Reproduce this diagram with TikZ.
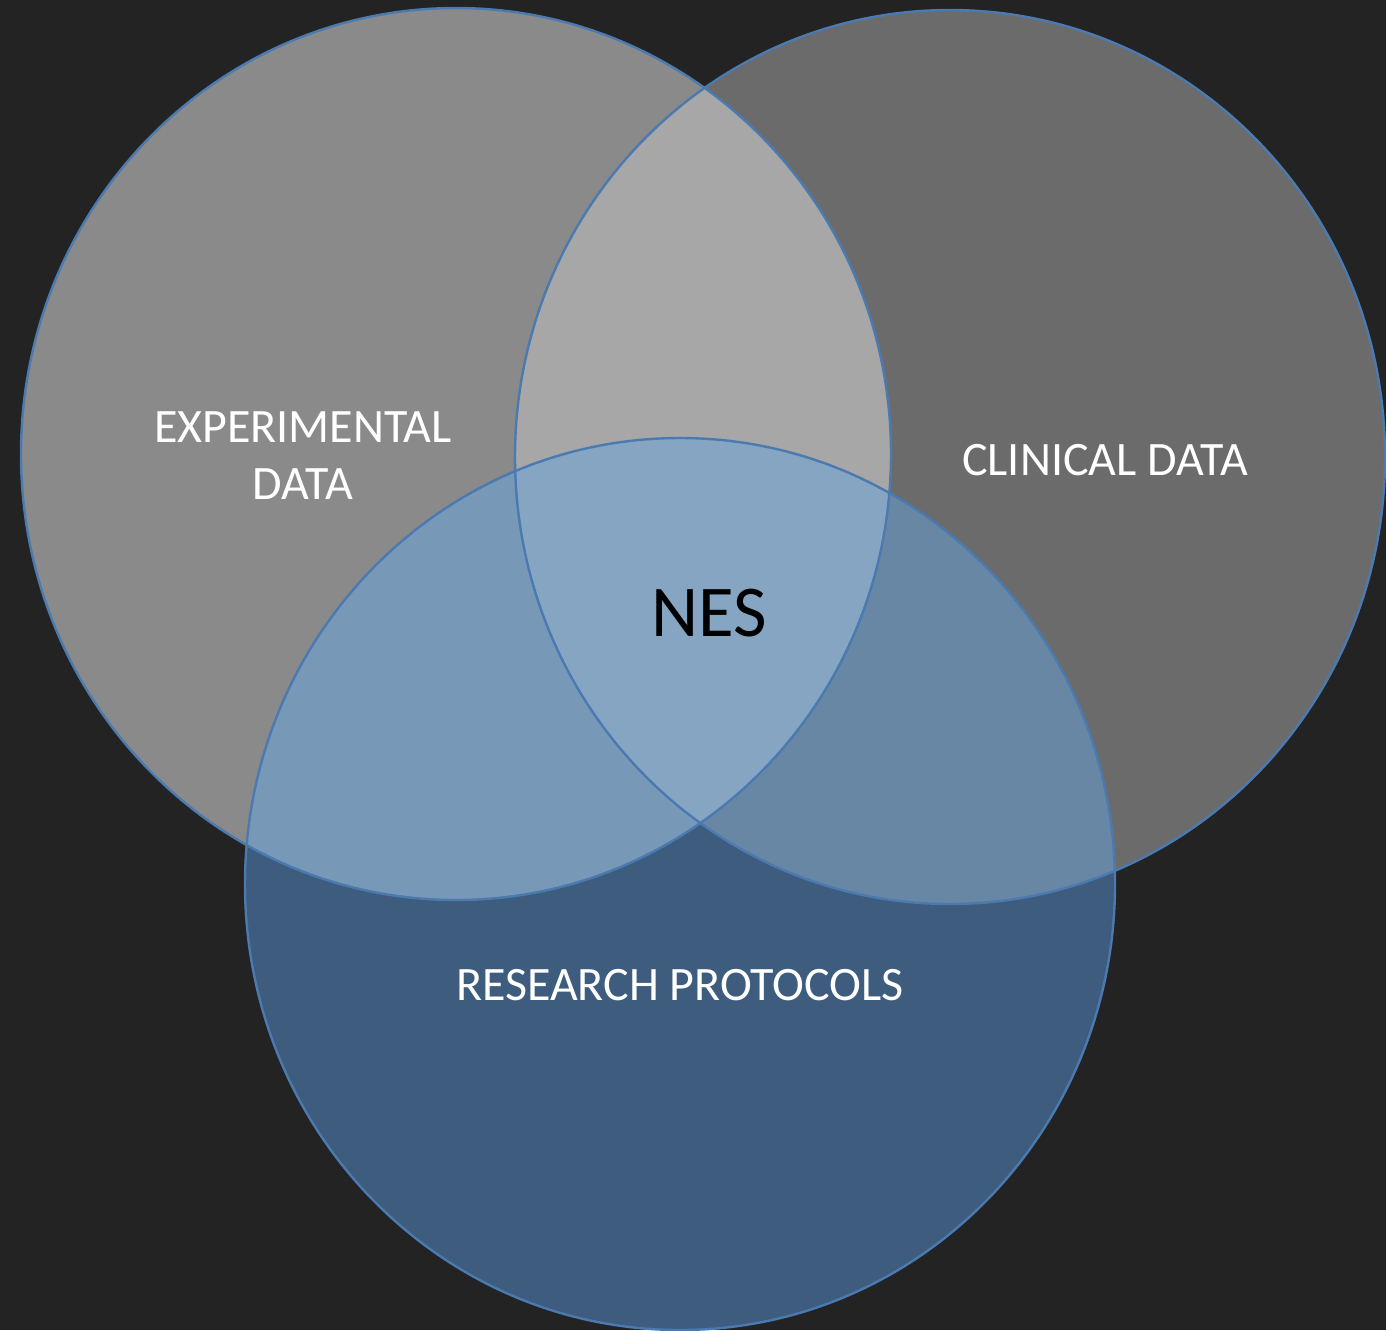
\documentclass[tikz,border=0pt]{standalone}
\usepackage{fontspec}
\setmainfont{Carlito}
\definecolor{bg}{HTML}{232323}
\definecolor{cleft}{HTML}{8A8A8A}
\definecolor{cright}{HTML}{6B6B6B}
\definecolor{clr}{HTML}{A7A7A7}
\definecolor{cbot}{HTML}{3E5D7E}
\definecolor{clb}{HTML}{7898B8}
\definecolor{crb}{HTML}{6887A5}
\definecolor{cmid}{HTML}{86A5C3}
\definecolor{edge}{HTML}{4A7AB0}
\begin{document}
\begin{tikzpicture}[x=0.5pt,y=-0.5pt,
  lbl/.style={inner sep=0pt,text=white,align=center,font=\fontsize{24}{28.5}\selectfont},
  rim/.style={draw=edge,line width=1.2pt}]
\fill[bg] (0,0) rectangle (1386,1330);
\useasboundingbox (0,0) rectangle (1386,1330);
\def\Lcirc{(456,454) ellipse [x radius=435,y radius=446]}
\def\Rcirc{(950,457) ellipse [x radius=435,y radius=447]}
\def\Bcirc{(680,884) ellipse [x radius=435,y radius=446]}
\fill[cleft] \Lcirc;
\fill[cright] \Rcirc;
\begin{scope}\clip \Lcirc; \fill[clr] \Rcirc;\end{scope}
\fill[cbot] \Bcirc;
\begin{scope}\clip \Bcirc; \fill[clb] \Lcirc;\end{scope}
\begin{scope}\clip \Bcirc; \fill[crb] \Rcirc;\end{scope}
\begin{scope}\clip \Bcirc; \clip \Lcirc; \fill[cmid] \Rcirc;\end{scope}
\draw[rim] \Lcirc;
\draw[rim] \Rcirc;
\draw[rim] \Bcirc;
\node[lbl] (exp) at (303,456) {EXPERIMENTAL\\DATA};
\node[lbl,anchor=base] (clin) at (1105,475) {CLINICAL DATA};
\node[lbl,anchor=base] (res) at (680,1000) {RESEARCH PROTOCOLS};
\node[inner sep=0pt,anchor=base,font=\fontsize{36.5}{40}\selectfont] (nes) at (709,636) {NES};
\end{tikzpicture}
\end{document}
